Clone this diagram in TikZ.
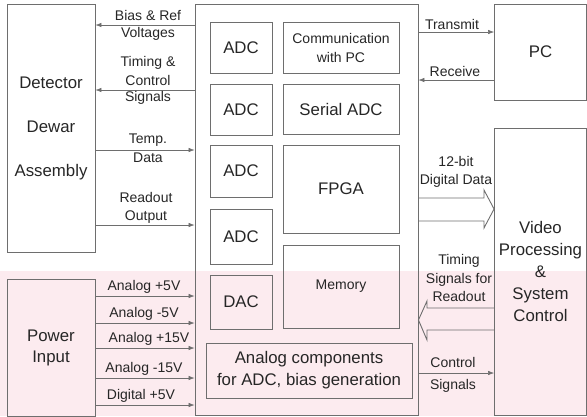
\documentclass[tikz,border=0pt]{standalone}
\usepackage{fontspec}
\setmainfont{Liberation Sans}
\usetikzlibrary{arrows.meta}

\definecolor{edge}{HTML}{6E6E6E}
\definecolor{ink}{HTML}{262626}
\definecolor{tint}{HTML}{FCEBEF}

\tikzset{
  blk/.style={draw=edge, line width=0.9pt, inner sep=0pt, text=ink,
    font=\fontsize{16.8}{22}\selectfont, align=center},
  lbl/.style={text=ink, inner sep=0pt, align=center,
    font=\fontsize{14}{18.5}\selectfont},
  sig/.style={draw=edge, line width=0.6pt, -{Latex[length=6pt,width=4.5pt]}},
  fat/.style={draw=edge, line width=0.9pt, line join=miter},
}

\begin{document}
\begin{tikzpicture}[x=1pt,y=-1pt]
  \useasboundingbox (0,0) rectangle (587,416);
  \fill[tint] (0,271) rectangle (587,416);

  % outer blocks
  \node[blk, minimum width=88, minimum height=248] (det) at (51,128.5)
    {Detector\\[22pt]Dewar\\[22pt]Assembly};
  \node[blk, minimum width=88, minimum height=137] (pwr) at (51,347.5) {Power\\[-1pt]Input};
  \node[blk, minimum width=223, minimum height=411] (main) at (306.5,209.5) {};
  \node[blk, minimum width=92, minimum height=96] (pc) at (540.5,52) {PC};
  \node[blk, minimum width=92, minimum height=287] (vid) at (540.5,271.5)
    {Video\\Processing\\\&\\System\\Control};

  % blocks inside the board
  \node[blk, minimum width=62, minimum height=51] (adcA) at (241,47.5) {ADC};
  \node[blk, minimum width=62, minimum height=51] (adcB) at (241,109.5) {ADC};
  \node[blk, minimum width=62, minimum height=52] (adcC) at (241,171) {ADC};
  \node[blk, minimum width=62, minimum height=55] (adcD) at (241,236.5) {ADC};
  \node[blk, minimum width=62, minimum height=54] (dac) at (241,302) {DAC};
  \node[blk, minimum width=116, minimum height=51, font=\fontsize{14}{19}\selectfont]
    (com) at (341,47.5) {Communication\\with PC};
  \node[blk, minimum width=116, minimum height=50] (sadc) at (341,109) {Serial ADC};
  \node[blk, minimum width=116, minimum height=88] (fpga) at (341,189) {FPGA};
  \node[blk, minimum width=116, minimum height=83, font=\fontsize{14}{19}\selectfont]
    (mem) at (341,286.5) {Memory};
  \node[blk, minimum width=206, minimum height=55] (ana) at (309,370.5)
    {Analog components\\for ADC, bias generation};

  % detector side
  \draw[sig] (main.west |- 0,25) -- (det.east |- 0,25);
  \node[lbl] (biasA) at (148,15) {Bias \& Ref};
  \node[lbl] (biasB) at (148,34) {Voltages};
  \draw[sig] (main.west |- 0,90) -- (det.east |- 0,90);
  \node[lbl] (timA) at (148,71) {Timing \&\\Control};
  \node[lbl] (timB) at (148,98) {Signals};
  \draw[sig] (det.east |- 0,150) -- (main.west |- 0,150);
  \node[lbl] (tmpA) at (148,140) {Temp.};
  \node[lbl] (tmpB) at (148,158) {Data};
  \draw[sig] (det.east |- 0,225) -- (main.west |- 0,225);
  \node[lbl] (rdo) at (146,208) {Readout\\Output};

  % power rails
  \foreach \y/\t/\x in {296/Analog +5V/144, 323/Analog -5V/144, 348/Analog +15V/149,
                        378/Analog -15V/144, 405/Digital +5V/141} {
    \draw[sig] (pwr.east |- 0,\y) -- (main.west |- 0,\y);
    \node[lbl] at (\x,\y-9) {\t};
  }

  % PC link
  \draw[sig] (main.east |- 0,32) -- (pc.west |- 0,32);
  \node[lbl] (tx) at (452,24) {Transmit};
  \draw[sig] (pc.west |- 0,80) -- (main.east |- 0,80);
  \node[lbl] (rx) at (455,71) {Receive};

  % video side
  \draw[fat] (main.east |- 0,198) -- (484,198) -- (484,190) -- (vid.west |- 0,209)
    -- (484,228) -- (484,221) -- (main.east |- 0,221);
  \node[lbl] (dat) at (456,172) {12-bit\\Digital Data};
  \draw[fat] (vid.west |- 0,308) -- (427,308) -- (427,301) -- (main.east |- 0,320)
    -- (427,340) -- (427,330) -- (vid.west |- 0,330);
  \node[lbl] (tsr) at (459,278) {Timing\\Signals for\\Readout};
  \draw[sig] (main.east |- 0,373) -- (vid.west |- 0,373);
  \node[lbl] (ctl) at (453,375) {Control\\[3pt]Signals};
\end{tikzpicture}
\end{document}
